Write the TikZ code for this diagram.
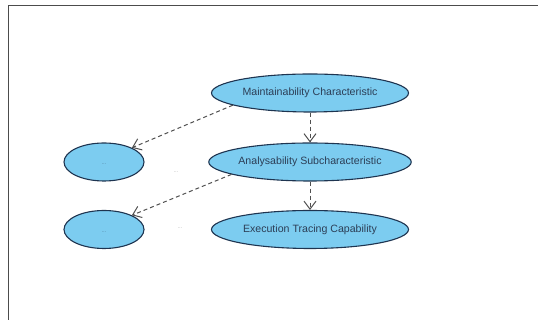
\documentclass[tikz,border=0pt]{standalone}
\usepackage{fontspec}
\setmainfont{Liberation Sans}
\usepackage{tikz}
\usetikzlibrary{shapes.geometric,arrows.meta}
\definecolor{qfill}{RGB}{124,204,240}
\definecolor{qline}{RGB}{30,52,80}
\definecolor{qtext}{RGB}{44,62,86}
\definecolor{qarrow}{RGB}{80,80,80}
\tikzset{
	qstate/.style={draw=qline, fill=qfill, ellipse, line width=1.1pt, text=qtext, inner sep=0pt, font=\fontsize{10.6}{12}\selectfont},
	bigstate/.style={qstate, minimum width=197pt, minimum height=38pt},
	smallstate/.style={qstate, minimum width=80pt, minimum height=38pt},
	dots/.style={text=gray!55, font=\fontsize{6}{7}\selectfont},
	indots/.style={text=qtext!45!qfill, font=\fontsize{6}{7}\selectfont},
	dtrans/.style={draw=qarrow, -{Straight Barb[length=8pt,width=12pt]}, line width=1pt, dash pattern=on 4pt off 3pt}
}

\begin{document}
\begin{tikzpicture}[x=1pt,y=1pt]
		\newcommand{\picwidth}{538}
		\newcommand{\picheight}{320}
		\newcommand{\framex}{8.5}
		\newcommand{\framey}{314.5}
		\newcommand{\rightcol}{310}
		\newcommand{\leftcol}{104}
		\newcommand{\rowone}{227}
		\newcommand{\rowtwo}{158}
		\newcommand{\rowthree}{90.5}
		\useasboundingbox (0,0) rectangle (\picwidth,\picheight);
		\draw[gray!60!black, line width=1.3pt] (\framex,0) -- (\framex,\framey) -- (\picwidth,\framey);
		
		\node [bigstate] (maint) at (\rightcol,\rowone) {Maintainability Characteristic};
		\node [bigstate] (analys) at (\rightcol,\rowtwo) {Analysability Subcharacteristic};
		\node [bigstate] (exectrace) at (\rightcol,\rowthree) {Execution Tracing Capability};
		\node [smallstate] (leftone) at (\leftcol,\rowtwo) {};
		\node [smallstate] (lefttwo) at (\leftcol,\rowthree) {};
		
		% faint placeholder texts
		\node [indots] (leftonetext) at (\leftcol,\rowtwo-2) {...};
		\node [indots] (lefttwotext) at (\leftcol,\rowthree-3) {...};
		\node [dots] (midone) at (176,\rowtwo-10) {...};
		\node [dots] (midtwo) at (180,\rowthree+1) {...};
		
		\draw [dtrans] (maint.south) -- (analys.north);
		\draw [dtrans] (analys.south) -- (exectrace.north);
		\draw [dtrans] (maint.189) -- (leftone.27);
		\draw [dtrans] (analys.189) -- (lefttwo.27);
		
	\end{tikzpicture}
\end{document}
